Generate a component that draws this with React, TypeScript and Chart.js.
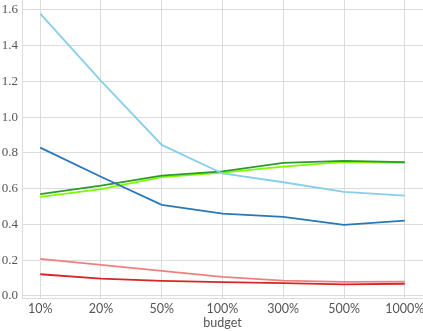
import React, { useEffect, useRef } from "react";
import { Chart, registerables } from "chart.js";

Chart.register(...registerables);

const budgetLabels = ["10%", "20%", "50%", "100%", "300%", "500%", "1000%"];
const lightBlueSeries = [1.58, 1.203, 0.845, 0.685, 0.636, 0.582, 0.561];
const darkBlueSeries = [0.83, 0.667, 0.509, 0.46, 0.442, 0.397, 0.421];
const darkGreenSeries = [0.569, 0.617, 0.673, 0.697, 0.744, 0.755, 0.748];
const lightGreenSeries = [0.554, 0.597, 0.665, 0.69, 0.723, 0.75, 0.745];
const lightRedSeries = [0.207, 0.173, 0.14, 0.106, 0.085, 0.078, 0.08];
const redSeries = [0.121, 0.097, 0.084, 0.077, 0.071, 0.064, 0.068];
const yTickValues = [0, 0.2, 0.4, 0.6, 0.8, 1.0, 1.2, 1.4, 1.6];

const GRID = "#dcdcdc";

export default function App() {
  const ref = useRef<HTMLCanvasElement | null>(null);
  useEffect(() => {
    if (!ref.current) return;
    const pts = (arr: number[]) => arr.map((v, i) => ({ x: i, y: v }));
    const mk = (data: number[], color: string) => ({
      data: pts(data),
      borderColor: color,
      backgroundColor: color,
      borderWidth: 1.8,
      pointRadius: 0,
      tension: 0,
      fill: false,
    });
    const chart = new Chart(ref.current, {
      type: "line",
      data: {
        datasets: [
          mk(lightBlueSeries, "#87ceeb"),
          mk(darkBlueSeries, "#2878b8"),
          mk(darkGreenSeries, "#2e9a2e"),
          mk(lightGreenSeries, "#7cfc00"),
          mk(lightRedSeries, "#f08080"),
          mk(redSeries, "#d62728"),
        ],
      },
      options: {
        animation: false,
        responsive: false,
        layout: { padding: 0 },
        plugins: { legend: { display: false }, tooltip: { enabled: false } },
        scales: {
          x: {
            type: "linear",
            min: -0.3,
            max: 6.3,
            afterBuildTicks: (s: any) => {
              s.ticks = budgetLabels.map((_, i) => ({ value: i }));
            },
            afterFit: (s: any) => {
              s.height = 33;
              s.paddingLeft = 0;
              s.paddingRight = 0;
            },
            ticks: {
              autoSkip: false,
              maxRotation: 0,
              padding: 3,
              color: "#555",
              font: { family: "Lato", size: 12.5 },
              callback: (v: any) => budgetLabels[Math.round(Number(v))] ?? "",
            },
            grid: { color: GRID, lineWidth: 1, drawTicks: false },
            border: { color: GRID, width: 1 },
            title: {
              display: true,
              text: "budget",
              color: "#555",
              font: { family: "Lato", size: 12.5 },
              padding: { top: 0, bottom: 1 },
            },
          },
          y: {
            min: -0.0118,
            max: 1.6558,
            afterBuildTicks: (s: any) => {
              s.ticks = yTickValues.map((v) => ({ value: v }));
            },
            afterFit: (s: any) => {
              s.width = 22;
              s.paddingTop = 0;
              s.paddingBottom = 0;
            },
            ticks: {
              padding: 4,
              color: "#555",
              font: { family: "'Liberation Serif', 'DejaVu Serif', serif", size: 13 },
              callback: (v: any) => Number(v).toFixed(1),
            },
            grid: { color: GRID, lineWidth: 1, drawTicks: false },
            border: { color: GRID, width: 1 },
          },
        },
      },
    });
    return () => chart.destroy();
  }, []);
  return (
    <div style={{ position: "fixed", left: 0, top: 0, width: 423, height: 331, background: "#fff" }}>
      <canvas ref={ref} width={423} height={331} />
    </div>
  );
}
